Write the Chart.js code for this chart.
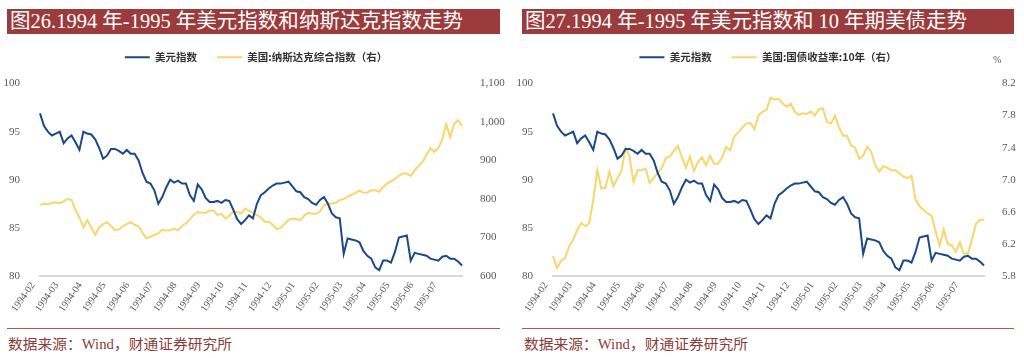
<!DOCTYPE html>
<html><head><meta charset="utf-8">
<script src="https://cdn.jsdelivr.net/npm/chart.js@4.4.0/dist/chart.umd.min.js"></script>
<style>
html,body{margin:0;padding:0;background:#fff;}
#wrap{position:relative;width:1024px;height:358px;overflow:hidden;background:#fff;}
.bar{position:absolute;top:9px;height:25px;background:#9b3b3b;}
.bar span{position:absolute;left:3px;top:0;color:#fff;font:20px/25px "Liberation Serif","Noto Sans CJK SC",serif;white-space:nowrap;transform-origin:0 50%;}
.rule{position:absolute;top:328px;height:1px;background:#b85450;}
.src{position:absolute;top:336px;font:14px/18px "Liberation Serif","Noto Sans CJK SC",serif;color:#8e3b36;white-space:nowrap;transform-origin:0 50%;}
canvas{position:absolute;top:40px;}
.pct{position:absolute;left:993px;top:54px;font:10px "Liberation Serif",serif;color:#595959;}
</style></head>
<body>
<div id="wrap">
  <div class="bar" style="left:7px;width:493px;"><span data-w="453">图26.1994 年-1995 年美元指数和纳斯达克指数走势</span></div>
  <div class="bar" style="left:522px;width:492px;"><span data-w="442">图27.1994 年-1995 年美元指数和 10 年期美债走势</span></div>
  <canvas id="c1" width="512" height="288" style="left:0px;"></canvas>
  <canvas id="c2" width="512" height="288" style="left:512px;"></canvas>
  <div class="pct">%</div>
  <div class="rule" style="left:7px;width:493px;"></div>
  <div class="rule" style="left:522px;width:492px;"></div>
  <div class="src" style="left:8px;" data-w="224">数据来源：Wind，财通证券研究所</div>
  <div class="src" style="left:524px;" data-w="224">数据来源：Wind，财通证券研究所</div>
</div>
<script>
// Categories: sampling dates (roughly every 5 days)
const months = ['1994-02','1994-03','1994-04','1994-05','1994-06','1994-07','1994-08','1994-09','1994-10','1994-11','1994-12','1995-01','1995-02','1995-03','1995-04','1995-05','1995-06','1995-07'];
const days = ['01','06','11','16','21','26'];
const dates = months.flatMap(m => days.map(d => m + '-' + d));

// 美元指数
const dollarIndex = [96.9, 95.6, 95.0, 94.6, 94.8, 95.0, 93.8, 94.3, 94.6, 93.9,
 93.1, 95.0, 94.8, 94.7, 94.2, 93.3, 92.2, 92.5, 93.2, 93.2,
 93.0, 92.7, 93.1, 92.7, 92.7, 92.0, 90.7, 89.8, 89.6, 88.9,
 87.5, 88.2, 89.2, 90.0, 89.7, 89.9, 89.6, 89.6, 88.4, 87.8,
 89.5, 89.0, 88.1, 87.7, 87.7, 87.8, 87.6, 87.9, 87.8, 86.9,
 85.9, 85.4, 85.8, 86.3, 86.0, 87.5, 88.4, 88.7, 89.1, 89.4,
 89.6, 89.6, 89.7, 89.8, 89.3, 88.8, 88.7, 88.2, 88.0, 87.6,
 87.4, 87.9, 88.2, 87.5, 86.5, 86.1, 86.0, 82.3, 83.9, 83.8,
 83.7, 83.5, 82.6, 82.1, 81.8, 80.9, 80.6, 81.6, 81.6, 81.4,
 82.5, 84.0, 84.1, 84.2, 81.6, 82.4, 82.3, 82.2, 82.1, 81.8,
 81.7, 81.6, 82.0, 82.1, 81.8, 81.8, 81.5, 81.1];

// 美国:纳斯达克综合指数
const nasdaq = [784, 788, 786, 790, 791, 789, 794, 800, 797, 772,
 752, 726, 745, 726, 707, 726, 735, 740, 730, 719,
 721, 729, 735, 740, 733, 729, 712, 698, 702, 707,
 711, 720, 718, 719, 723, 719, 729, 737, 747, 759,
 766, 764, 764, 770, 770, 758, 762, 749, 757, 767,
 767, 762, 775, 769, 764, 758, 752, 741, 741, 733,
 722, 725, 735, 745, 749, 748, 745, 757, 764, 762,
 762, 768, 783, 788, 788, 790, 797, 800, 806, 811,
 816, 822, 816, 817, 823, 823, 819, 831, 840, 846,
 852, 861, 866, 866, 860, 875, 885, 897, 915, 932,
 922, 932, 955, 994, 960, 995, 1005, 990];

// 美国:国债收益率:10年 (%)
const yield10y = [6.05, 5.90, 5.99, 6.02, 6.17, 6.25, 6.37, 6.46, 6.42, 6.46,
 6.75, 7.12, 6.89, 6.90, 7.10, 6.92, 7.02, 7.11, 7.40, 7.29,
 6.97, 7.12, 7.12, 7.14, 6.96, 7.02, 7.09, 7.14, 7.27, 7.29,
 7.36, 7.42, 7.28, 7.15, 7.29, 7.11, 7.22, 7.28, 7.18, 7.30,
 7.20, 7.20, 7.28, 7.41, 7.37, 7.54, 7.59, 7.65, 7.70, 7.71,
 7.63, 7.80, 7.85, 7.87, 8.02, 8.00, 8.01, 7.95, 7.91, 7.95,
 7.85, 7.81, 7.83, 7.82, 7.85, 7.80, 7.88, 7.89, 7.72, 7.70,
 7.80, 7.65, 7.55, 7.55, 7.43, 7.40, 7.26, 7.30, 7.41, 7.35,
 7.18, 7.10, 7.17, 7.15, 7.12, 7.12, 7.08, 7.04, 7.02, 7.05,
 6.75, 6.67, 6.62, 6.58, 6.55, 6.35, 6.18, 6.38, 6.20, 6.18,
 6.10, 6.22, 6.08, 6.08, 6.25, 6.45, 6.50, 6.50];

const leftTicks = [80, 85, 90, 95, 100];
const nasdaqTicks = [600, 700, 800, 900, 1000, 1100];
const yieldTicks = [5.8, 6.2, 6.6, 7.0, 7.4, 7.8, 8.2];

// fit title / source text widths to the reference
document.querySelectorAll('[data-w]').forEach(el => {
  const w = el.getBoundingClientRect().width;
  el.style.transform = 'scaleX(' + (Number(el.dataset.w) / w) + ')';
});

const BLUE = '#1b4889', YELLOW = '#f8d66c', GRAY = '#595959';
Chart.defaults.font.family = '"Liberation Serif","Noto Sans CJK SC",serif';
Chart.defaults.color = GRAY;

const legendGap = { id: 'legendGap', beforeInit(chart) {
  const lg = chart.legend; const f = lg.fit;
  lg.fit = function () { f.call(this); this.height += 11; };
}};

function comma(v) { return String(v).replace(/\B(?=(\d{3})+(?!\d))/g, ','); }

function makeChart(id, rightLabel, rightData, rightTicks, rightFmt, leftW, rightW) {
  return new Chart(document.getElementById(id), {
    type: 'line',
    data: {
      labels: dates,
      datasets: [
        { label: '美元指数', data: dollarIndex, yAxisID: 'y', borderColor: BLUE, backgroundColor: BLUE, borderWidth: 2, pointRadius: 0, tension: 0, order: 0 },
        { label: rightLabel, data: rightData, yAxisID: 'y1', borderColor: YELLOW, backgroundColor: YELLOW, borderWidth: 2, pointRadius: 0, tension: 0, order: 1 }
      ]
    },
    options: {
      responsive: false, animation: false, devicePixelRatio: 1,
      layout: { padding: { top: -8, left: 0, right: 0, bottom: 0 } },
      plugins: {
        tooltip: { enabled: false },
        legend: {
          position: 'top', align: 'center',
          labels: {
            boxWidth: 25, boxHeight: 2, padding: 20, color: '#333',
            font: { size: 10.5, weight: 'bold', family: '"Noto Sans CJK SC","Liberation Serif",sans-serif' },
            generateLabels: (chart) => Chart.defaults.plugins.legend.labels.generateLabels(chart)
              .map(it => Object.assign(it, { fillStyle: it.strokeStyle, lineWidth: 0 }))
          }
        }
      },
      scales: {
        x: {
          type: 'category', offset: false,
          grid: { display: false, drawTicks: false },
          border: { display: true, color: '#d9d9d9', width: 2 },
          ticks: {
            autoSkip: false, maxRotation: 55, minRotation: 55, padding: 4, labelOffset: -7,
            color: GRAY, font: { size: 10 },
            callback(v) { const l = this.getLabelForValue(v); return l.endsWith('-01') ? l.slice(0, 7) : null; }
          },
          afterFit(s) { s.height = 52; }
        },
        y: {
          position: 'left', min: 80, max: 100,
          grid: { display: false }, border: { display: false },
          afterBuildTicks(s) { s.ticks = leftTicks.map(v => ({ value: v })); },
          ticks: { padding: 12, color: GRAY, font: { size: 11 } },
          afterFit(s) { s.width = leftW; }
        },
        y1: {
          position: 'right', min: rightTicks[0], max: rightTicks[rightTicks.length - 1],
          grid: { display: false }, border: { display: false },
          afterBuildTicks(s) { s.ticks = rightTicks.map(v => ({ value: v })); },
          ticks: { padding: 10, color: GRAY, font: { size: 11 }, callback: rightFmt },
          afterFit(s) { s.width = rightW; }
        }
      }
    },
    plugins: [legendGap]
  });
}

makeChart('c1', '美国:纳斯达克综合指数（右）', nasdaq, nasdaqTicks, v => comma(v), 40, 50);
makeChart('c2', '美国:国债收益率:10年（右）', yield10y, yieldTicks, v => Number(v).toFixed(1), 41, 40);
</script>
</body></html>
